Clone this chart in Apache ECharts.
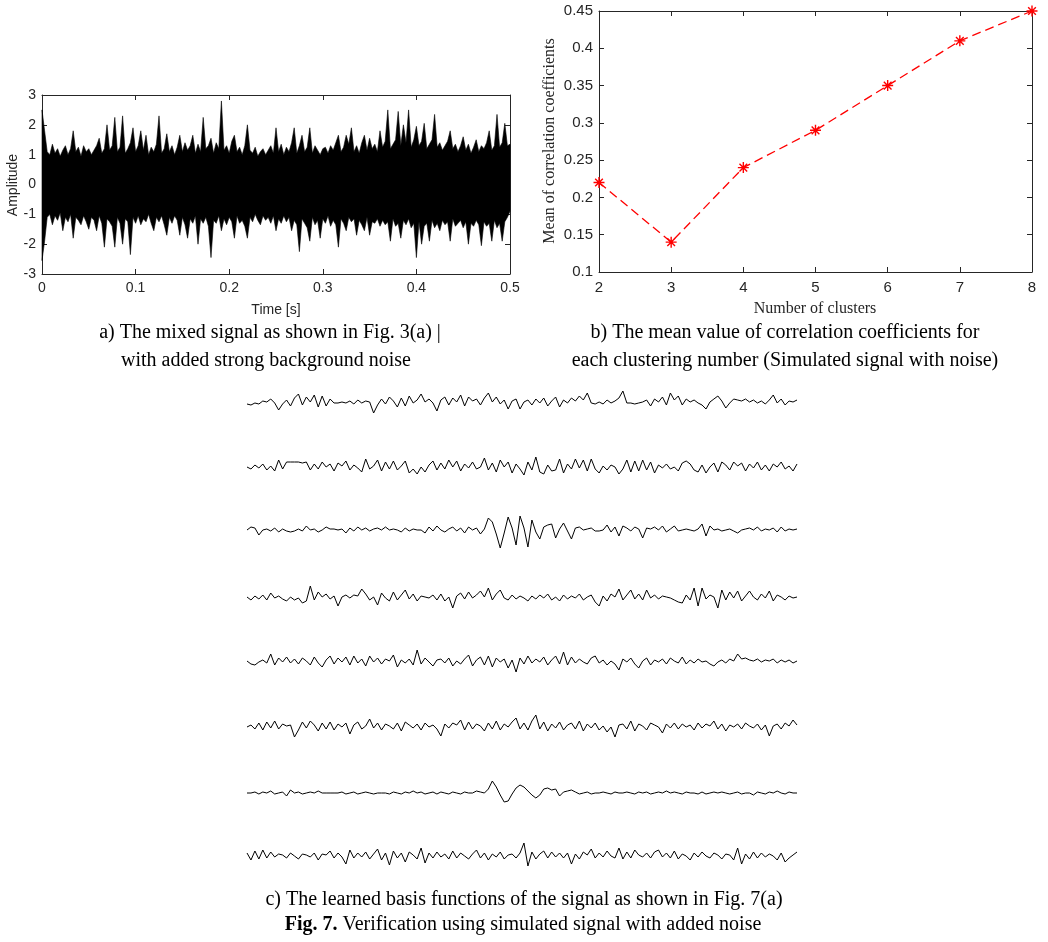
<!DOCTYPE html>
<html><head><meta charset="utf-8">
<script src="https://cdn.jsdelivr.net/npm/echarts@6/dist/echarts.min.js"></script>
<style>html,body{margin:0;padding:0;background:#fff}#c{width:1048px;height:942px}</style>
</head><body><div id="c"></div>
<script>
// ---------- Panel a: mixed noisy signal (envelope, 181 samples over 0..0.5 s) ----------
const ampUpper = [
 2.5,1.8,1.1,1.0,1.35,1.05,1.2,0.95,1.15,1.3,
 1.0,1.2,1.8,1.1,1.25,0.95,1.3,1.1,1.2,1.0,
 1.15,1.3,1.55,1.05,1.2,2.0,1.15,1.3,2.25,1.1,
 1.25,2.3,1.05,1.2,1.4,1.9,1.1,1.3,1.8,1.15,
 1.65,1.0,1.25,1.1,1.35,2.3,1.05,1.2,1.7,1.1,
 1.3,1.0,1.25,1.65,1.1,1.4,1.15,1.3,1.65,1.05,
 1.35,1.1,2.25,1.2,1.3,1.55,1.05,1.4,1.2,2.8,
 1.15,1.3,1.05,1.45,1.65,1.1,1.25,1.0,1.3,2.0,
 1.15,1.05,1.25,0.95,1.1,1.2,1.0,1.15,1.3,1.05,
 1.9,1.1,1.35,1.0,1.25,1.1,1.4,1.9,1.05,1.3,
 1.65,1.1,1.25,1.9,1.05,1.3,1.15,1.0,1.2,1.25,
 1.05,1.3,1.15,1.4,1.65,1.1,1.25,1.65,1.35,1.9,
 1.1,1.3,1.05,1.4,1.65,1.15,1.55,1.2,1.35,1.1,
 1.8,1.25,1.45,2.5,1.2,1.35,1.5,2.45,1.3,2.0,
 1.4,2.5,1.25,1.5,1.95,1.3,1.45,2.05,1.2,1.35,
 1.5,2.35,1.25,1.4,1.15,1.3,1.45,1.8,1.2,1.35,
 1.1,1.3,1.6,1.15,1.35,1.05,1.25,1.5,1.1,1.3,
 1.2,1.4,1.8,1.15,1.3,2.35,1.25,1.4,2.05,1.3,
 1.35];
const ampLower = [
 -2.55,-1.9,-1.1,-1.0,-1.35,-1.05,-1.2,-0.95,-1.55,-1.1,
 -1.25,-1.0,-1.8,-1.1,-1.2,-1.35,-1.05,-1.25,-1.5,-1.1,
 -1.2,-1.55,-1.05,-1.3,-2.1,-1.15,-1.25,-1.4,-2.1,-1.1,
 -1.3,-2.0,-1.15,-1.25,-2.35,-1.1,-1.3,-1.05,-1.35,-1.15,
 -1.25,-1.0,-1.3,-1.55,-1.1,-1.25,-1.05,-1.35,-1.7,-1.1,
 -1.3,-1.05,-1.2,-1.7,-1.1,-1.35,-1.8,-1.15,-1.3,-1.05,
 -2.0,-1.15,-1.3,-1.1,-1.4,-2.45,-1.2,-1.3,-1.05,-1.55,
 -1.15,-1.35,-1.1,-1.25,-1.8,-1.05,-1.3,-1.2,-1.4,-1.8,
 -1.1,-1.25,-1.0,-1.2,-1.35,-1.05,-1.2,-1.1,-1.3,-1.05,
 -1.55,-1.15,-1.3,-1.05,-1.25,-1.1,-1.55,-1.2,-1.35,-2.25,
 -1.15,-1.3,-1.45,-1.9,-1.1,-1.35,-1.2,-1.8,-1.15,-1.3,
 -1.05,-1.4,-1.2,-1.35,-2.1,-1.15,-1.3,-1.55,-1.1,-1.25,
 -1.15,-1.7,-1.2,-1.35,-1.55,-1.1,-1.7,-1.25,-1.3,-1.15,
 -1.4,-1.2,-1.35,-1.25,-1.9,-1.15,-1.4,-1.3,-1.8,-1.2,
 -1.35,-1.15,-1.45,-1.3,-2.45,-1.25,-2.0,-1.4,-1.3,-1.9,
 -1.2,-1.45,-1.3,-1.55,-1.2,-1.35,-1.25,-1.9,-1.15,-1.4,
 -1.3,-1.2,-1.45,-1.25,-2.0,-1.3,-1.4,-1.2,-1.35,-2.05,
 -1.25,-1.4,-1.3,-1.9,-1.2,-1.45,-1.3,-1.9,-1.25,-1.1,
 -0.9];
const timeTicksA = [0, 0.1, 0.2, 0.3, 0.4, 0.5];

// ---------- Panel b: mean correlation coefficient vs clusters ----------
const clusters = [2, 3, 4, 5, 6, 7, 8];
const meanCorr = [0.22, 0.14, 0.24, 0.29, 0.35, 0.41, 0.45];

// ---------- Panel c: 8 learned basis functions (140 samples each, amplitude in px-like units) ----------
const basis1 = [-1,-2,0,-1,2,1,4,0,-7,-1, 3,-3,5,9,-2,6,1,8,-4,7, -3,4,0,0,1,0,2,-1,3,0, 2,1,-10,-2,4,-1,6,2,-4,5,
 -3,7,0,3,9,1,4,0,-8,3, 6,-2,5,1,8,-3,6,2,4,-2, 5,10,1,6,-1,3,-6,2,4,-6, 1,3,-2,4,0,5,-3,2,6,-4,
 3,0,5,2,7,3,10,0,-1,1, -1,3,0,2,5,12,0,0,-1,0, 1,3,-3,4,1,6,-2,10,3,7, -2,4,1,3,0,-2,-6,1,4,7,
 2,-5,0,4,3,2,4,1,3,0, 2,-1,3,8,0,4,-2,2,1,3];
const basis2 = [0,-2,2,-1,3,-3,1,-4,7,-2, 5,5,5,5,4,5,-3,3,-2,5, 0,3,-4,4,1,6,-3,2,-1,-5, 8,-2,1,7,-4,5,-2,6,-3,1,
 6,-6,-2,-7,0,-5,2,6,-3,4, -2,7,0,6,-4,3,-1,5,-2,0, 9,-3,4,-5,7,0,5,-6,3,-2, -8,5,-3,10,-5,-7,2,-4,-3,8,
 -6,3,-2,8,-1,7,-4,8,-2,-6, 1,-3,2,0,-7,-2,7,-5,6,-4, 7,-3,5,-6,2,-1,3,-2,0,-4, 4,6,3,-3,-5,2,-6,0,4,-5,
 5,2,-3,5,1,4,-4,3,-1,5, -3,2,-4,3,0,5,-2,1,-4,3];
const basis3 = [0,3,2,-5,0,1,-1,2,-2,1, -1,-2,-1,1,-1,4,0,1,-2,0, 3,1,1,0,1,-3,2,-1,3,0, 2,-1,1,2,0,3,0,1,0,-2,
 2,-1,1,0,0,-3,3,-1,4,0, -2,1,3,-1,2,-3,3,0,2,-4, 1,12,8,-4,-18,-3,13,2,-15,14, 2,-17,10,-2,-9,3,5,6,-8,1,
 7,-1,-9,2,3,0,1,2,-1,-1, 0,5,-2,3,-6,4,2,-1,3,1, -8,2,1,3,0,4,-2,1,4,-1, 0,1,0,-1,1,6,-6,4,0,1,
 -1,0,1,-1,-3,0,1,2,0,3, -1,1,0,2,-2,3,-1,1,0,1];
const basis4 = [1,-2,2,-1,3,-2,5,0,2,-1, -3,1,-2,0,-5,-3,12,-2,6,1, 4,-1,2,-8,1,3,0,3,2,9, 4,-2,1,-7,5,0,-3,6,-2,3,
 8,-1,4,-3,2,1,0,3,-2,4, -3,1,-10,2,5,-1,6,0,3,7, 1,10,-2,4,8,0,-2,3,-1,2, 0,-3,2,-1,3,0,4,-2,1,-3,
 3,-1,2,0,4,-2,1,3,-4,-8, 2,-3,4,1,9,-2,3,8,-1,4, -2,8,0,3,-1,2,1,0,-2,-4, -5,3,-2,10,-8,10,-1,3,1,-10,
 8,-2,6,0,7,-3,2,7,1,-2, 4,0,7,-3,3,1,-2,2,0,1];
const basis5 = [1,-2,-3,0,2,-1,8,-3,4,0, 5,-1,3,-2,4,1,-3,5,-1,-5, 2,6,-2,4,0,5,-3,6,-1,3, -4,6,0,4,-2,3,1,7,-5,2,
 -1,3,-3,12,-2,4,0,-4,2,3, -1,4,-4,1,-2,3,7,-4,2,5, -3,6,-5,4,0,3,-6,2,-10,4, -2,6,-1,3,0,5,-3,2,6,-2,
 10,-3,5,-1,3,0,-2,4,6,-1, 2,-3,1,-2,-8,3,0,4,-2,-6, 1,4,-3,2,0,3,-2,4,1,-1, 5,-2,2,-1,3,0,1,-2,-4,0,
 2,-1,3,1,8,3,4,2,1,3, 0,2,1,3,-1,2,0,2,-1,1];
const basis6 = [0,2,-2,4,-3,5,-1,6,-2,3, 1,2,-10,-3,5,-1,6,2,-4,4, -2,5,-3,3,0,4,-7,2,5,-2, 1,8,-1,4,-3,3,1,-2,4,-4,
 5,2,-1,3,-3,4,0,2,-2,-9, 3,-1,4,2,7,-3,5,-2,3,1, -4,4,-2,6,-3,3,0,5,9,-2, 4,-3,6,12,-2,5,-4,3,-1,5,
 -3,2,4,-2,6,-4,3,-1,4,-3, 1,-5,0,-10,2,3,-2,6,-4,3, 1,-3,4,2,0,-6,3,-1,4,-2, 3,0,2,-3,4,-1,3,1,6,-2,
 3,-4,2,0,3,-2,4,1,-1,3, -3,2,-9,1,3,-2,4,1,7,2];
const basis7 = [0,0,1,-1,1,0,2,-1,0,1, -3,3,0,1,-1,0,1,0,2,0, 0,0,0,0,1,-1,0,1,-1,0, 1,0,-1,0,0,0,-1,1,0,-1,
 1,0,2,0,1,-1,0,1,-1,1, 0,-1,1,0,-1,1,0,0,2,1, 0,4,12,6,-2,-9,-8,-1,5,8, 6,2,-2,-5,-2,4,5,3,4,-3,
 1,2,3,1,-1,0,1,-1,0,0, 1,0,-1,1,0,0,1,0,-1,1, 0,1,-1,0,1,0,2,0,1,0, -1,1,0,0,-1,1,-1,0,1,0,
 1,0,-1,0,1,-1,0,0,-2,1, 0,-1,1,0,2,0,-1,1,0,0];
const basis8 = [3,-4,5,-3,6,-2,4,-1,2,1, -2,3,0,-3,2,1,-1,3,-4,2, 1,5,-2,3,-1,-8,6,-2,3,-1, 4,-3,2,7,-4,3,-9,5,-2,3,
 -6,4,1,-3,8,-7,3,-2,4,-1, 2,-3,5,-2,3,0,-3,2,6,-2, 3,-4,2,-1,4,-3,1,2,-2,3, 13,-10,4,-3,2,5,-2,4,-1,3,
 -2,3,-8,2,-3,4,1,7,-2,3, -1,5,0,-2,8,-3,4,-2,6,1, -1,3,-2,4,6,-1,3,-2,5,-3, 2,0,-4,3,-1,4,0,-2,3,1,
 -3,2,1,-4,8,-8,2,-3,4,-2, 3,-1,2,0,-4,3,-6,-2,1,4];
const basisList = [basis1, basis2, basis3, basis4, basis5, basis6, basis7, basis8];

// ---------- build ----------
const dtA = 0.5 / (ampUpper.length - 1);
const sampleTimes = ampUpper.map((v, i) => i * dtA);

const INK = '#262626';
const sans = '"Liberation Sans", Arial, sans-serif';
const serif = '"Liberation Serif", "Times New Roman", serif';
const fmt = v => String(+(+v).toFixed(2));

const grids = [
  {left: 42, top: 95, width: 468, height: 179},
  {left: 599, top: 11, width: 433, height: 261}
];
const traceCenters = [403, 467, 530, 598, 662, 727, 793, 856];
traceCenters.forEach(c => grids.push({left: 247, top: c - 20, width: 550, height: 40}));

function boxAxis(gridIndex, pos, extra, labels, fontSize) {
  return Object.assign({
    gridIndex, position: pos, type: 'value',
    axisLine: {show: true, onZero: false, lineStyle: {color: INK, width: 1}},
    axisTick: {show: true, inside: true, length: 5, lineStyle: {color: INK}},
    splitLine: {show: false},
    axisLabel: labels ? {show: true, color: INK, fontFamily: sans, fontSize: fontSize, formatter: fmt} : {show: false}
  }, extra);
}

const xAxes = [
  boxAxis(0, 'bottom', {min: 0, max: 0.5, interval: 0.1}, true, 14),
  boxAxis(0, 'top', {min: 0, max: 0.5, interval: 0.1}, false),
  boxAxis(1, 'bottom', {min: 2, max: 8, interval: 1}, true, 15),
  boxAxis(1, 'top', {min: 2, max: 8, interval: 1}, false)
];
const yAxes = [
  boxAxis(0, 'left', {min: -3, max: 3, interval: 1}, true, 14),
  boxAxis(0, 'right', {min: -3, max: 3, interval: 1}, false),
  boxAxis(1, 'left', {min: 0.1, max: 0.45, interval: 0.05}, true, 15),
  boxAxis(1, 'right', {min: 0.1, max: 0.45, interval: 0.05}, false)
];
xAxes[0].axisLabel.margin = 7; yAxes[0].axisLabel.margin = 6;
xAxes[2].axisLabel.margin = 8; yAxes[2].axisLabel.margin = 6;

const series = [
  // dense noise band: one polygon, upper envelope forward, lower envelope back
  {type: 'custom', xAxisIndex: 0, yAxisIndex: 0, data: [[0, 0]], silent: true,
   renderItem: function (params, api) {
     const pts = [];
     for (let i = 0; i < sampleTimes.length; i++) pts.push(api.coord([sampleTimes[i], ampUpper[i]]));
     for (let i = sampleTimes.length - 1; i >= 0; i--) pts.push(api.coord([sampleTimes[i], ampLower[i]]));
     return {type: 'polygon', shape: {points: pts}, style: {fill: '#000', stroke: '#000', lineWidth: 0.6}};
   }},
  {type: 'line', xAxisIndex: 2, yAxisIndex: 2, data: clusters.map((c, i) => [c, meanCorr[i]]),
   symbol: 'path://M5 0L5 10M0 5L10 5M1.5 1.5L8.5 8.5M8.5 1.5L1.5 8.5', symbolSize: 11,
   itemStyle: {color: '#ff0000', borderColor: '#ff0000', borderWidth: 1.4},
   lineStyle: {color: '#ff0000', width: 1.3, type: [9, 5]}, clip: false}
];

basisList.forEach((b, k) => {
  xAxes.push({gridIndex: 2 + k, type: 'value', min: 0, max: b.length - 1, show: false});
  yAxes.push({gridIndex: 2 + k, type: 'value', min: -20, max: 20, show: false});
  series.push({type: 'line', xAxisIndex: 4 + k, yAxisIndex: 4 + k, symbol: 'none',
    data: b.map((v, i) => [i, v]), lineStyle: {color: '#000', width: 1}});
});

function txt(x, y, text, font, rot, extra) {
  return {type: 'text', x, y, rotation: rot || 0,
    style: Object.assign({text, font, fill: '#000', textAlign: 'center', textVerticalAlign: 'middle',
      align: 'center', verticalAlign: 'middle'}, extra || {})};
}

const graphic = [
  txt(13, 185, 'Amplitude', '14px ' + sans, Math.PI / 2, {fill: INK}),
  txt(276, 310, 'Time [s]', '14px ' + sans, 0, {fill: INK}),
  txt(550, 141, 'Mean of correlation coefficients', '16px ' + serif, Math.PI / 2, {fill: INK}),
  txt(815, 309, 'Number of clusters', '16px ' + serif, 0, {fill: INK}),
  txt(270, 333, 'a) The mixed signal as shown in Fig. 3(a) |', '20px ' + serif),
  txt(266, 361, 'with added strong background noise', '20px ' + serif),
  txt(785, 333, 'b) The mean value of correlation coefficients for', '20px ' + serif),
  txt(785, 361, 'each clustering number (Simulated signal with noise)', '20px ' + serif),
  txt(524, 900, 'c) The learned basis functions of the signal as shown in Fig. 7(a)', '20px ' + serif),
  {type: 'text', x: 523, y: 925,
   style: {text: '{b|Fig. 7.} Verification using simulated signal with added noise',
     font: '20px ' + serif, fill: '#000', textAlign: 'center', textVerticalAlign: 'middle', align: 'center', verticalAlign: 'middle',
     rich: {b: {fontWeight: 'bold', fontFamily: serif, fontSize: 20}}}}
];

const chart = echarts.init(document.getElementById('c'), null, {renderer: 'canvas'});
chart.setOption({animation: false, backgroundColor: '#fff', grid: grids, xAxis: xAxes, yAxis: yAxes, series, graphic});
</script></body></html>
